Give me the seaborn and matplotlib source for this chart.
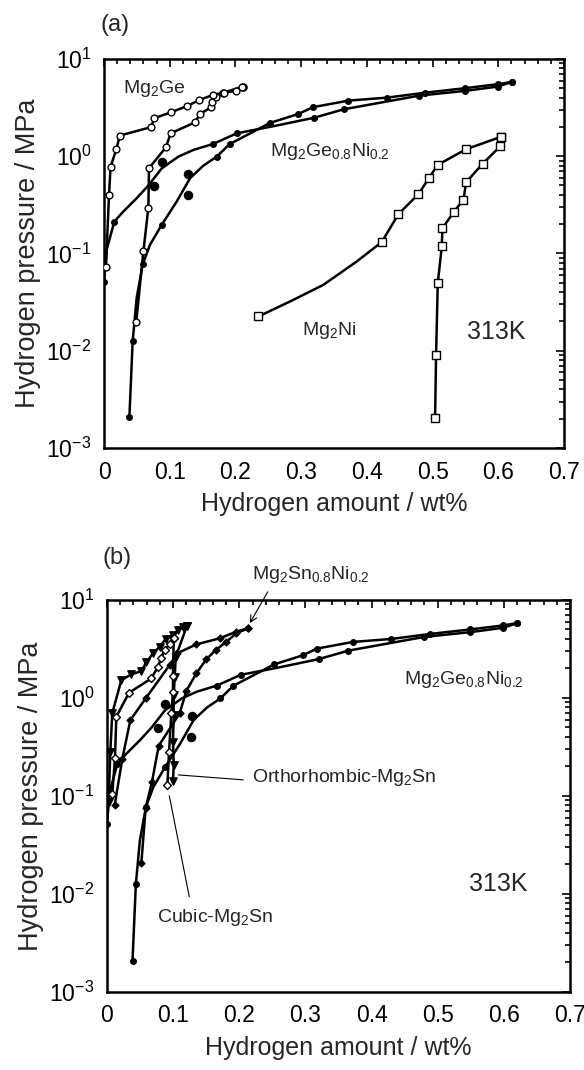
import numpy as np
import pandas as pd
import matplotlib
matplotlib.use("Agg")
import matplotlib.pyplot as plt
import seaborn as sns
from matplotlib.ticker import MultipleLocator, LogLocator, NullFormatter

sns.set_theme(style="white")
plt.rcParams['font.family'] = ['Liberation Sans', 'DejaVu Sans']
plt.rcParams['mathtext.fontset'] = 'custom'
plt.rcParams['mathtext.rm'] = 'Liberation Sans'
plt.rcParams['mathtext.it'] = 'Liberation Sans:italic'
plt.rcParams['mathtext.bf'] = 'Liberation Sans:bold'

# ---------------- axis ticks ----------------
x_ticks = [0, 0.1, 0.2, 0.3, 0.4, 0.5, 0.6, 0.7]
x_tick_labels = ['0', '0.1', '0.2', '0.3', '0.4', '0.5', '0.6', '0.7']
y_ticks = [1e-3, 1e-2, 1e-1, 1e0, 1e1]
y_tick_labels = [r'$10^{-3}$', r'$10^{-2}$', r'$10^{-1}$', r'$10^{0}$', r'$10^{1}$']

# ---------------- Mg2Ge (open circles) ----------------
ge_abs_x = [0.049, 0.060, 0.0675, 0.0685, 0.094, 0.1015, 0.1385, 0.146, 0.163, 0.164, 0.171, 0.181, 0.212]
ge_abs_p = [0.0197, 0.106, 0.297, 0.753, 1.23, 1.72, 2.23, 2.72, 3.18, 3.65, 4.03, 4.5, 5.2]
ge_des_x = [0.212, 0.2095, 0.201, 0.182, 0.166, 0.145, 0.127, 0.102, 0.0766, 0.0715, 0.024, 0.019, 0.010, 0.0076, 0.003]
ge_des_p = [5.2, 5.2, 4.69, 4.51, 4.27, 3.79, 3.29, 2.83, 2.46, 1.99, 1.63, 1.19, 0.78, 0.40, 0.073]

# ---------------- Mg2Ge0.8Ni0.2 (filled circles) ----------------
gn1_x = [0.0, 0.004, 0.0157, 0.0294, 0.0497, 0.0675, 0.0878, 0.1131, 0.136, 0.1664, 0.202, 0.26, 0.32, 0.365, 0.48, 0.549, 0.599, 0.6205]
gn1_p = [0.0515, 0.109, 0.213, 0.27, 0.37, 0.50, 0.75, 0.99, 1.16, 1.34, 1.72, 2.05, 2.49, 3.04, 4.2, 4.69, 5.2, 5.8]
gn1_mark = [0, 2, 9, 10, 12, 13, 14, 15, 16, 17]
gn2_x = [0.0386, 0.0436, 0.0497, 0.0589, 0.07, 0.0878, 0.1106, 0.1309, 0.1512, 0.1715, 0.191, 0.2527, 0.2958, 0.3176, 0.372, 0.430, 0.4886, 0.549, 0.599, 0.6205]
gn2_p = [0.00207, 0.0125, 0.035, 0.0776, 0.123, 0.197, 0.342, 0.594, 0.80, 0.99, 1.33, 2.2, 2.72, 3.19, 3.73, 4.0, 4.5, 5.0, 5.5, 5.8]
gn2_mark = [0, 1, 3, 5, 9, 10, 11, 12, 13, 14, 15, 16, 17, 18, 19]
gn_extra_x = [0.0766, 0.0878, 0.1284, 0.1273]
gn_extra_p = [0.495, 0.867, 0.65, 0.40]

# ---------------- Mg2Ni (open squares) ----------------
ni_abs_x = [0.2349, 0.2831, 0.3338, 0.3846, 0.4226, 0.448, 0.4784, 0.495, 0.5079, 0.551, 0.6038]
ni_abs_p = [0.0225, 0.0321, 0.0476, 0.0828, 0.131, 0.254, 0.407, 0.604, 0.815, 1.18, 1.58]
ni_abs_mark = [0, 4, 5, 6, 7, 8, 9, 10]
ni_des_x = [0.6038, 0.6027, 0.5764, 0.551, 0.547, 0.5327, 0.515, 0.514, 0.5079, 0.5053, 0.5038]
ni_des_p = [1.58, 1.26, 0.84, 0.54, 0.356, 0.27, 0.182, 0.118, 0.0496, 0.0091, 0.00203]

# ---------------- Orthorhombic-Mg2Sn (filled down triangles) ----------------
ort_abs_x = [0.0025, 0.005, 0.008, 0.0217, 0.0368, 0.052, 0.0595, 0.0696, 0.0797, 0.0888, 0.0998, 0.1074, 0.115, 0.121]
ort_abs_p = [0.087, 0.28, 0.70, 1.52, 1.74, 1.88, 2.31, 2.85, 3.34, 4.0, 4.4, 4.94, 5.35, 5.47]
ort_des_x = [0.121, 0.104, 0.1024, 0.1009, 0.1009, 0.0998, 0.1009, 0.0998]
ort_des_p = [5.47, 2.64, 1.65, 1.07, 0.67, 0.357, 0.206, 0.142]

# ---------------- Cubic-Mg2Sn (open diamonds) ----------------
cub_abs_x = [0.008, 0.0121, 0.0141, 0.0333, 0.067, 0.0772, 0.0822, 0.0872, 0.0948, 0.1009]
cub_abs_p = [0.104, 0.245, 0.644, 1.13, 1.58, 2.09, 2.58, 3.08, 3.52, 4.06]
cub_des_x = [0.1009, 0.0998, 0.0998, 0.0973, 0.0938, 0.0913]
cub_des_p = [4.06, 1.69, 1.16, 0.70, 0.28, 0.129]

# ---------------- Mg2Sn0.8Ni0.2 (filled diamonds) ----------------
sn_abs_x = [0.0116, 0.0232, 0.0353, 0.0585, 0.0948, 0.1059, 0.1351, 0.1704, 0.1957, 0.2133]
sn_abs_p = [0.0805, 0.24, 0.594, 0.99, 2.17, 2.85, 3.52, 4.06, 4.75, 5.14]
sn_des_x = [0.2133, 0.1957, 0.1805, 0.1644, 0.1503, 0.1351, 0.12, 0.11, 0.0782, 0.0681, 0.0585, 0.0519]
sn_des_p = [5.14, 4.57, 3.75, 3.08, 2.49, 1.78, 1.18, 0.70, 0.325, 0.14, 0.0757, 0.0205]


def draw(ax, xs, ps, mark=None, marker='o', s=20, fc='white', lw=1.8, line=True):
    df = pd.DataFrame({'x': xs, 'p': ps})
    if line:
        sns.lineplot(data=df, x='x', y='p', sort=False, estimator=None,
                     color='black', lw=lw, ax=ax, zorder=2)
    m = df if mark is None else df.iloc[mark]
    sns.scatterplot(data=m, x='x', y='p', marker=marker, s=s, color=fc,
                    edgecolor='black', linewidth=1.0, ax=ax, zorder=3)


def style(ax):
    ax.set_yscale('log')
    ax.set_xlim(0, 0.7)
    ax.set_ylim(1e-3, 1e1)
    ax.set_xticks(x_ticks, x_tick_labels)
    ax.xaxis.set_minor_locator(MultipleLocator(0.02))
    ax.set_yticks(y_ticks, y_tick_labels)
    ax.yaxis.set_minor_locator(LogLocator(base=10, subs=np.arange(2, 10), numticks=20))
    ax.yaxis.set_minor_formatter(NullFormatter())
    ax.tick_params(which='both', direction='in', top=True, right=True,
                   colors='black', labelsize=16.5, width=1.2)
    ax.tick_params(which='major', length=6, pad=9)
    ax.tick_params(which='minor', length=3.5)
    for sp in ax.spines.values():
        sp.set_color('black')
        sp.set_linewidth(1.8)
    ax.set_xlabel('Hydrogen amount / wt%', fontsize=18, labelpad=6)
    ax.set_ylabel('Hydrogen pressure / MPa', fontsize=19.5, labelpad=4)
    ax.grid(False)


fig = plt.figure(figsize=(5.84, 10.70), dpi=100)
ax1 = fig.add_axes([0.1781, 0.5813, 0.7877, 0.3636])
ax2 = fig.add_axes([0.1832, 0.0729, 0.7928, 0.3664])
for ax in (ax1, ax2):
    ax.set_yscale('log')

# ----- panel (a) -----
draw(ax1, ge_abs_x, ge_abs_p, marker='o', s=24, fc='white')
draw(ax1, ge_des_x, ge_des_p, marker='o', s=24, fc='white')
draw(ax1, gn1_x, gn1_p, gn1_mark, marker='o', s=16, fc='black')
draw(ax1, gn2_x, gn2_p, gn2_mark, marker='o', s=16, fc='black')
draw(ax1, gn_extra_x, gn_extra_p, marker='o', s=34, fc='black', line=False)
draw(ax1, ni_abs_x, ni_abs_p, ni_abs_mark, marker='s', s=32, fc='white')
draw(ax1, ni_des_x, ni_des_p, marker='s', s=32, fc='white')
style(ax1)
ax1.text(0.0294, 5.0, r'Mg$_2$Ge', fontsize=14, va='center', ha='left')
ax1.text(0.2526, 1.13, r'Mg$_2$Ge$_{0.8}$Ni$_{0.2}$', fontsize=14, va='center', ha='left')
ax1.text(0.3008, 0.0163, r'Mg$_2$Ni', fontsize=14, va='center', ha='left')
ax1.text(0.552, 0.0155, '313K', fontsize=18, va='center', ha='left')
fig.text(100 / 584, 1 - 25 / 1070, '(a)', fontsize=17, va='center', ha='left')

# ----- panel (b) -----
draw(ax2, gn1_x, gn1_p, gn1_mark, marker='o', s=16, fc='black')
draw(ax2, gn2_x, gn2_p, gn2_mark, marker='o', s=16, fc='black')
draw(ax2, gn_extra_x, gn_extra_p, marker='o', s=34, fc='black', line=False)
draw(ax2, sn_abs_x, sn_abs_p, marker='D', s=12, fc='black')
draw(ax2, sn_des_x, sn_des_p, marker='D', s=12, fc='black')
draw(ax2, ort_abs_x, ort_abs_p, marker='v', s=28, fc='black')
draw(ax2, ort_des_x, ort_des_p, marker='v', s=28, fc='black')
draw(ax2, cub_abs_x, cub_abs_p, marker='D', s=16, fc='white')
draw(ax2, cub_des_x, cub_des_p, marker='D', s=16, fc='white')
style(ax2)
ax2.text(0.449, 1.53, r'Mg$_2$Ge$_{0.8}$Ni$_{0.2}$', fontsize=14, va='center', ha='left')
ax2.text(0.547, 0.0127, '313K', fontsize=18, va='center', ha='left')
ax2.text(0.219, 18.0, r'Mg$_2$Sn$_{0.8}$Ni$_{0.2}$', fontsize=14, va='center', ha='left', clip_on=False)
ax2.annotate('', xy=(0.216, 5.8), xytext=(0.243, 12.1),
             arrowprops=dict(arrowstyle='->', lw=0.8, color='black', shrinkA=0, shrinkB=0),
             annotation_clip=False)
ax2.plot([0.1078, 0.206], [0.164, 0.146], color='black', lw=0.8)
ax2.text(0.219, 0.156, r'Orthorhombic-Mg$_2$Sn', fontsize=14, va='center', ha='left')
ax2.plot([0.0942, 0.1244], [0.1006, 0.00938], color='black', lw=0.8)
ax2.text(0.075, 0.00569, r'Cubic-Mg$_2$Sn', fontsize=14, va='center', ha='left')
fig.text(103 / 584, 1 - 558 / 1070, '(b)', fontsize=17, va='center', ha='left')

fig.savefig('out.png', dpi=100)
